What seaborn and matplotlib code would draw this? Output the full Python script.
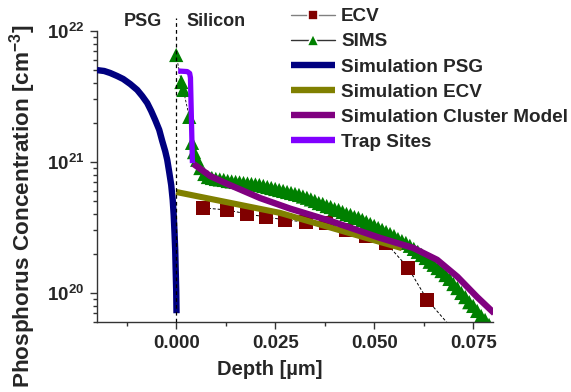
import matplotlib
matplotlib.use("Agg")
import matplotlib.pyplot as plt
import seaborn as sns
import pandas as pd
from matplotlib.lines import Line2D
from matplotlib.ticker import FixedLocator, NullFormatter, LogLocator

# ---------------- data ----------------
ecv_depth = [0.0068, 0.0129, 0.0179, 0.0227, 0.0275, 0.0328, 0.0379, 0.0429,
             0.0480, 0.0530, 0.0586, 0.0634, 0.0730]
ecv_conc = [4.46e20, 4.30e20, 4.01e20, 3.80e20, 3.61e20, 3.48e20, 3.42e20, 3.03e20,
            2.72e20, 2.41e20, 1.55e20, 8.85e19, 4.1e19]

sims_depth = [0.0, 0.0013, 0.0018, 0.0033, 0.0040, 0.0045, 0.0053, 0.0061, 0.0071,
              0.008, 0.009, 0.010, 0.011, 0.012, 0.013, 0.014, 0.015, 0.016, 0.017,
              0.018, 0.019, 0.020, 0.021, 0.022, 0.023, 0.024, 0.025, 0.026, 0.027,
              0.028, 0.029, 0.030, 0.031, 0.032, 0.033, 0.034, 0.035, 0.036, 0.037,
              0.038, 0.039, 0.040, 0.041, 0.042, 0.043, 0.044, 0.045, 0.046, 0.047,
              0.048, 0.049, 0.050, 0.051, 0.052, 0.053, 0.054, 0.055, 0.056, 0.057,
              0.058, 0.059, 0.060, 0.061, 0.062, 0.063, 0.064, 0.065, 0.066, 0.067,
              0.068, 0.069, 0.070, 0.071, 0.072, 0.073, 0.074, 0.075, 0.076, 0.077,
              0.078, 0.079, 0.080]
sims_conc = [6.56e21, 4.08e21, 3.55e21, 2.21e21, 1.40e21, 1.19e21, 1.04e21, 8.99e20, 8.10e20,
             7.68e20, 7.55e20, 7.42e20, 7.35e20, 7.29e20, 7.16e20, 7.10e20, 7.04e20, 6.98e20, 6.91e20,
             6.85e20, 6.79e20, 6.73e20, 6.67e20, 6.56e20, 6.44e20, 6.33e20, 6.22e20, 6.11e20, 6.01e20,
             5.90e20, 5.80e20, 5.70e20, 5.60e20, 5.45e20, 5.33e20, 5.18e20, 5.04e20, 4.86e20, 4.78e20,
             4.61e20, 4.53e20, 4.37e20, 4.30e20, 4.15e20, 4.01e20, 3.94e20, 3.80e20, 3.74e20, 3.61e20,
             3.48e20, 3.36e20, 3.25e20, 3.13e20, 3.03e20, 2.92e20, 2.82e20, 2.72e20, 2.58e20, 2.49e20,
             2.41e20, 2.29e20, 2.17e20, 2.06e20, 1.95e20, 1.85e20, 1.73e20, 1.64e20, 1.55e20, 1.47e20,
             1.37e20, 1.28e20, 1.17e20, 1.09e20, 1.00e20, 9.3e19, 8.5e19, 7.96e19, 7.29e19, 6.67e19,
             6.22e19, 5.70e19, 5.22e19]

psg_depth = [-0.02000, -0.01818, -0.01667, -0.01490, -0.01338, -0.01162, -0.00985, -0.00859,
             -0.00732, -0.00631, -0.00530, -0.00429, -0.00354, -0.00278, -0.00227, -0.00177,
             -0.00126, -0.00088, -0.00063, -0.00043, -0.00025, -0.00013, 0.0, 0.00008]
psg_conc = [5.03e21, 4.95e21, 4.78e21, 4.53e21, 4.30e21, 3.94e21, 3.55e21, 3.19e21,
            2.82e21, 2.45e21, 2.09e21, 1.76e21, 1.45e21, 1.21e21, 1.04e21, 8.39e20,
            6.67e20, 5.13e20, 3.94e20, 2.92e20, 2.13e20, 1.50e20, 1.05e20, 7.0e19]

simecv_depth = [0.0, 0.0263, 0.0515, 0.0570]
simecv_conc = [5.9e20, 4.08e20, 2.45e20, 2.2e20]

cluster_depth = [0.0043, 0.0086, 0.0129, 0.0212, 0.0288, 0.0389, 0.0515, 0.0598,
                 0.0659, 0.0710, 0.0760, 0.0803]
cluster_conc = [9.7e20, 7.8e20, 6.8e20, 5.3e20, 4.4e20, 3.55e20, 2.63e20, 2.21e20,
                1.79e20, 1.33e20, 9.3e19, 7.0e19]

trap_depth = [0.0005, 0.0028, 0.0034, 0.0036, 0.0041]
trap_conc = [4.95e21, 4.9e21, 4.75e21, 4.4e21, 9.8e20]

x_ticks = [0.0, 0.025, 0.05, 0.075]
x_tick_labels = ["0.000", "0.025", "0.050", "0.075"]
y_ticks = [1e20, 1e21, 1e22]
y_tick_labels = [r"$\mathbf{10^{20}}$", r"$\mathbf{10^{21}}$", r"$\mathbf{10^{22}}$"]
legend_labels = ["ECV", "SIMS", "Simulation PSG", "Simulation ECV",
                 "Simulation Cluster Model", "Trap Sites"]

C_ECV = "#800000"
C_SIMS = "#008000"
C_PSG = "#000080"
C_SECV = "#808000"
C_CLU = "#800080"
C_TRAP = "#8000FF"

# ---------------- style ----------------
sns.set_theme(style="ticks")
plt.rcParams["font.family"] = ["Liberation Sans", "DejaVu Sans"]
plt.rcParams["font.weight"] = "bold"
plt.rcParams["axes.labelweight"] = "bold"
plt.rcParams["mathtext.fontset"] = "custom"
plt.rcParams["mathtext.rm"] = "Liberation Sans:bold"
plt.rcParams["mathtext.bf"] = "Liberation Sans:bold"
plt.rcParams["mathtext.it"] = "Liberation Sans:bold"

fig = plt.figure(figsize=(5.71, 3.92), dpi=100)
ax = fig.add_axes([97 / 571, 1 - 322 / 392, (493 - 97) / 571, (322 - 31) / 392])

# ECV measured
sns.lineplot(x=ecv_depth, y=ecv_conc, ax=ax, color="black", lw=0.7,
             linestyle=(0, (3, 2)), sort=False, estimator=None, zorder=2)
sns.scatterplot(x=ecv_depth, y=ecv_conc, ax=ax, marker="s", s=100, color=C_ECV,
                edgecolor="none", zorder=2.1)
# SIMS
sns.lineplot(x=sims_depth, y=sims_conc, ax=ax, color="black", lw=0.6,
             linestyle=(0, (3, 2)), sort=False, estimator=None, zorder=2.2)
sns.scatterplot(x=sims_depth, y=sims_conc, ax=ax, marker="^", s=105, color=C_SIMS,
                edgecolor="none", zorder=2.3)
# simulations
sns.lineplot(x=psg_depth, y=psg_conc, ax=ax, color=C_PSG, lw=4.6, sort=False,
             estimator=None, zorder=3)
sns.lineplot(x=simecv_depth, y=simecv_conc, ax=ax, color=C_SECV, lw=4.4, sort=False,
             estimator=None, zorder=3.1)
sns.lineplot(x=cluster_depth, y=cluster_conc, ax=ax, color=C_CLU, lw=4.6, sort=False,
             estimator=None, zorder=3.2)
sns.lineplot(x=trap_depth, y=trap_conc, ax=ax, color=C_TRAP, lw=3.8, sort=False,
             estimator=None, zorder=3.3)
for ln in ax.lines:
    ln.set_solid_capstyle("butt")
    ln.set_solid_joinstyle("round")

ax.set_yscale("log")
ax.set_xlim(-0.02, 0.08)
ax.set_ylim(6.0e19, 1e22)

# interface line
ax.axvline(0.0, ymin=0, ymax=1.045, color="black", lw=0.9, linestyle=(0, (3, 2.5)),
           clip_on=False, zorder=4)

ax.xaxis.set_major_locator(FixedLocator(x_ticks))
ax.set_xticklabels(x_tick_labels)
ax.xaxis.set_minor_locator(FixedLocator([-0.0125, 0.0125, 0.0375, 0.0625]))
ax.yaxis.set_major_locator(FixedLocator(y_ticks))
ax.set_yticklabels(y_tick_labels)
ax.yaxis.set_minor_locator(LogLocator(base=10, subs=(2, 3, 4, 5, 6, 7, 8, 9)))
ax.yaxis.set_minor_formatter(NullFormatter())

ax.tick_params(axis="both", which="major", direction="out", length=5, width=1,
               labelsize=13.5, color="#333333", pad=4)
ax.tick_params(axis="both", which="minor", direction="out", length=3, width=1,
               color="#333333")
for lab in ax.get_xticklabels() + ax.get_yticklabels():
    lab.set_fontweight("bold")

sns.despine(ax=ax)
for sp in ["left", "bottom"]:
    ax.spines[sp].set_color("#333333")
    ax.spines[sp].set_linewidth(1)

ax.set_xlabel("Depth [µm]", fontsize=14.5, fontweight="bold")
ax.set_ylabel(r"Phosphorus Concentration [cm$^{\mathbf{-3}}$]", fontsize=16.2,
              fontweight="bold")
ax.xaxis.set_label_coords((270 - 97) / 396, -(360 - 322) / 291)
ax.yaxis.set_label_coords(-(97 - 38) / 396, (322 - 206) / 291)

fig.text(143 / 571, 1 - 21 / 392, "PSG", ha="center", va="center", fontsize=13,
         fontweight="bold")
fig.text(186 / 571, 1 - 21 / 392, "Silicon", ha="left", va="center", fontsize=13,
         fontweight="bold")

handles = [
    Line2D([], [], color="#808080", lw=1, marker="s", markersize=7,
           markerfacecolor=C_ECV, markeredgecolor="white", markeredgewidth=1.2),
    Line2D([], [], color="#333333", lw=1, marker="^", markersize=8,
           markerfacecolor=C_SIMS, markeredgecolor="white", markeredgewidth=1.2),
    Line2D([], [], color=C_PSG, lw=4.6, solid_capstyle="butt"),
    Line2D([], [], color=C_SECV, lw=4.6, solid_capstyle="butt"),
    Line2D([], [], color=C_CLU, lw=4.6, solid_capstyle="butt"),
    Line2D([], [], color=C_TRAP, lw=4.6, solid_capstyle="butt"),
]
fig.legend(handles, legend_labels, loc="upper left",
           bbox_to_anchor=(291 / 571, 1 - 8 / 392), frameon=False,
           prop={"size": 13.6, "weight": "bold"}, handlelength=2.35,
           handletextpad=0.3, labelspacing=0.42, borderpad=0, borderaxespad=0)

fig.savefig("out.png", dpi=100)
